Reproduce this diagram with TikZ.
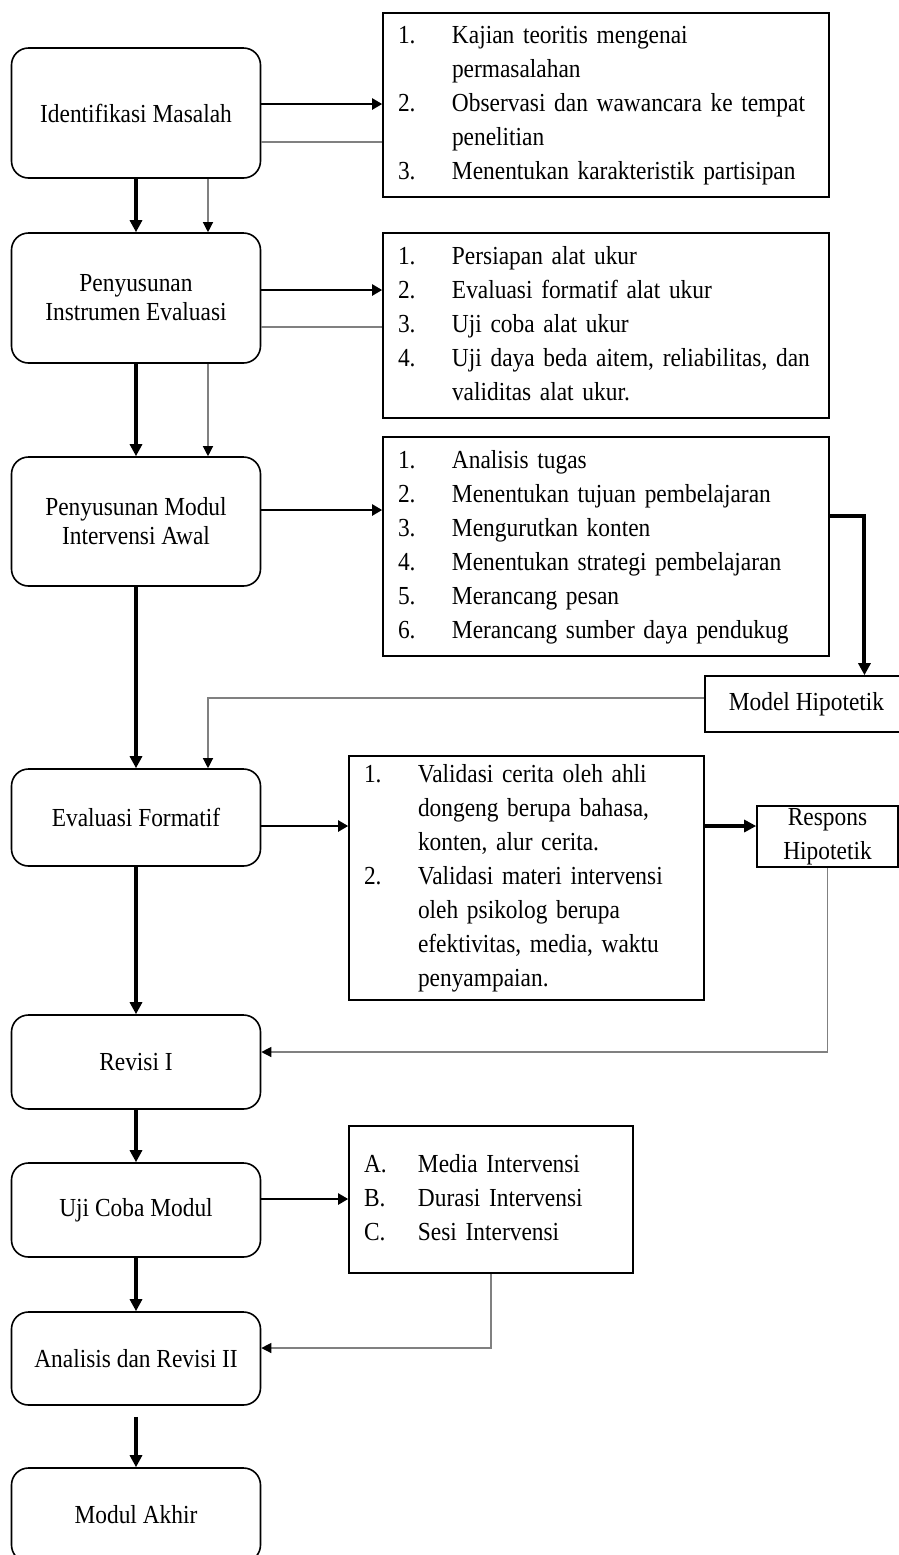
\documentclass[tikz,border=0pt]{standalone}
\usepackage{fontspec}
\setmainfont{Liberation Serif}[FakeStretch=0.9]
\usetikzlibrary{arrows.meta}
\tikzset{every node/.style={font=\fontsize{13}{14.5}\selectfont},
  stage/.style={draw, line width=0.8pt, rounded corners=8.5pt, minimum width=124.5pt, align=center, inner sep=0pt},
  listbox/.style={draw, line width=0.8pt, align=left, inner xsep=7.5pt, inner ysep=0pt, font=\fontsize{13}{17}\selectfont},
  resbox/.style={draw, line width=0.8pt, align=center, inner sep=0pt, font=\fontsize{13}{17}\selectfont},
  heavy/.style={line width=2pt, -{Triangle[length=6pt,width=6pt]}},
  medium/.style={line width=1.1pt, -{Triangle[length=5pt,width=5.5pt]}},
  faint/.style={line width=0.6pt, black!50},
  feedback/.style={faint, -{Triangle[length=5pt,width=5pt,black]}}}

\begin{document}
\begin{tikzpicture}[x=0.5pt, y=-0.5pt]
  \useasboundingbox (0,0) rectangle (899,1555);
  \clip (0,0) rectangle (899,1555);

  \node[stage, minimum height=65pt]   (idm) at (136,113)    {Identifikasi Masalah};
  \node[stage, minimum height=65pt]   (ins) at (136,298)    {Penyusunan\\Instrumen Evaluasi};
  \node[stage, minimum height=64.5pt] (mia) at (136,521.5)  {Penyusunan Modul\\Intervensi Awal};
  \node[stage, minimum height=48.5pt] (evf) at (136,817.5)  {Evaluasi Formatif};
  \node[stage, minimum height=47pt]   (rv1) at (136,1062)   {Revisi I};
  \node[stage, minimum height=47pt]   (ujc) at (136,1210)   {Uji Coba Modul};
  \node[stage, minimum height=46.5pt] (anr) at (136,1358.5) {Analisis dan Revisi II};
  \node[stage, minimum height=47pt]   (mak) at (136,1515)   {Modul Akhir};

  \node[listbox, text width=208pt, minimum height=92pt] (lsa) at (606,105) {%
    \begin{tabular}{@{}p{27pt}@{}l@{}}
    1. & Kajian teoritis mengenai\\
       & permasalahan\\
    2. & Observasi dan wawancara ke tempat\\
       & penelitian\\
    3. & Menentukan karakteristik partisipan
    \end{tabular}};
  \node[listbox, text width=208pt, minimum height=92.5pt] (lsb) at (606,325.5) {%
    \begin{tabular}{@{}p{27pt}@{}l@{}}
    1. & Persiapan alat ukur\\
    2. & Evaluasi formatif alat ukur\\
    3. & Uji coba alat ukur\\
    4. & Uji daya beda aitem, reliabilitas, dan\\
       & validitas alat ukur.
    \end{tabular}};
  \node[listbox, text width=208pt, minimum height=109.5pt] (lsc) at (606,546.5) {%
    \begin{tabular}{@{}p{27pt}@{}l@{}}
    1. & Analisis tugas\\
    2. & Menentukan tujuan pembelajaran\\
    3. & Mengurutkan konten\\
    4. & Menentukan strategi pembelajaran\\
    5. & Merancang pesan\\
    6. & Merancang sumber daya pendukug
    \end{tabular}};
  \node[listbox, text width=162.5pt, minimum height=122pt] (lsd) at (526.5,878) {%
    \begin{tabular}{@{}p{27pt}@{}l@{}}
    1. & Validasi cerita oleh ahli\\
       & dongeng berupa bahasa,\\
       & konten, alur cerita.\\
    2. & Validasi materi intervensi\\
       & oleh psikolog berupa\\
       & efektivitas, media, waktu\\
       & penyampaian.
    \end{tabular}};
  \node[listbox, text width=127pt, minimum height=73.5pt] (lse) at (491,1199.5) {%
    \begin{tabular}{@{}p{27pt}@{}l@{}}
    A. & Media Intervensi\\
    B. & Durasi Intervensi\\
    C. & Sesi Intervensi
    \end{tabular}};

  \node[resbox, anchor=west, inner xsep=12pt, minimum height=28pt] (mhp) at (704,704) {Model Hipotetik};
  \node[resbox, minimum width=70.5pt, minimum height=30.5pt] (rhp) at (827.5,836.5) {\raisebox{-3pt}{Respons}\\\raisebox{-3pt}{Hipotetik}};

  \draw[medium] ([yshift=4.5pt]idm.east) -- ([yshift=4.5pt]idm.east -| lsa.west);
  \draw[faint] ([yshift=-14.5pt]idm.east) -- ([yshift=-14.5pt]idm.east -| lsa.west);
  \draw[medium] ([yshift=4pt]ins.east) -- ([yshift=4pt]ins.east -| lsb.west);
  \draw[faint] ([yshift=-14.5pt]ins.east) -- ([yshift=-14.5pt]ins.east -| lsb.west);
  \draw[medium] ([yshift=5.75pt]mia.east) -- ([yshift=5.75pt]mia.east -| lsc.west);
  \draw[medium] ([yshift=-4.25pt]evf.east) -- ([yshift=-4.25pt]evf.east -| lsd.west);
  \draw[medium] ([yshift=5.5pt]ujc.east) -- ([yshift=5.5pt]ujc.east -| lse.west);

  \draw[heavy] (idm.south) -- (ins.north);
  \draw[feedback] ([xshift=36pt]idm.south) -- ([xshift=36pt]ins.north);
  \draw[heavy] (ins.south) -- (mia.north);
  \draw[feedback] ([xshift=36pt]ins.south) -- ([xshift=36pt]mia.north);
  \draw[heavy] (mia.south) -- (evf.north);
  \draw[heavy] (evf.south) -- (rv1.north);
  \draw[heavy] (rv1.south) -- (ujc.north);
  \draw[heavy] (ujc.south) -- (anr.north);
  \draw[heavy] ([yshift=-5.5pt]anr.south) -- (mak.north);

  \draw[heavy] ([yshift=15.25pt]lsc.east) -| ([xshift=29pt]mhp.north);
  \draw[heavy] ([yshift=26pt]lsd.east) -- ([yshift=26pt]lsd.east -| rhp.west);
  \draw[feedback] ([yshift=3pt]mhp.west) -| ([xshift=36pt]evf.north);
  \draw[feedback] (rhp.south) |- ([yshift=5pt]rv1.east);
  \draw[feedback] (lse.south) |- ([yshift=5.25pt]anr.east);
\end{tikzpicture}
\end{document}
